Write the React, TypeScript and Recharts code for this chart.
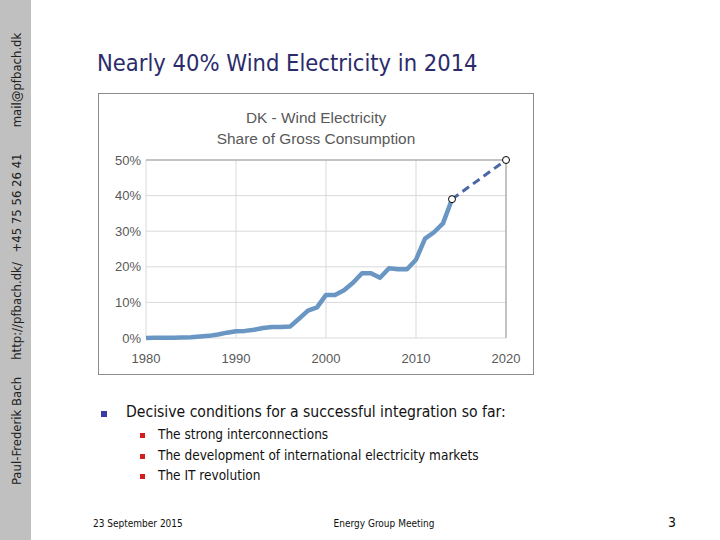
import React from "react";
import { LineChart, Line, XAxis, YAxis, CartesianGrid, ReferenceLine } from "recharts";

const years = [1980, 1981, 1982, 1983, 1984, 1985, 1986, 1987, 1988, 1989, 1990, 1991, 1992, 1993, 1994, 1995, 1996, 1997, 1998, 1999, 2000, 2001, 2002, 2003, 2004, 2005, 2006, 2007, 2008, 2009, 2010, 2011, 2012, 2013, 2014];
const windShare = [0, 0.05, 0.1, 0.1, 0.15, 0.2, 0.4, 0.6, 1.0, 1.5, 1.9, 2.0, 2.3, 2.8, 3.1, 3.1, 3.2, 5.4, 7.7, 8.6, 12.1, 12.1, 13.4, 15.5, 18.2, 18.2, 16.9, 19.6, 19.3, 19.3, 22.0, 27.9, 29.7, 32.2, 39.0];
const targetYears = [2014, 2020];
const targetShare = [39.0, 50.0];
const xTicks = [1980, 1990, 2000, 2010, 2020];
const yTicks = [0, 10, 20, 30, 40, 50];

const chartTitle = ["DK - Wind Electricity", "Share of Gross Consumption"];
const slideTitle = "Nearly 40% Wind Electricity in 2014";
const mainBullet = "Decisive conditions for a successful integration so far:";
const subBullets = ["The strong interconnections", "The development of international electricity markets", "The IT revolution"];
const sidebarTexts = ["mail@pfbach.dk", "+45 75 56 26 41", "http://pfbach.dk/", "Paul-Frederik Bach"];
const sidebarCenters = [80, 203, 311, 431];

const data = [
  ...years.map((y, i) => ({ year: y, share: windShare[i], target: targetYears.includes(y) ? targetShare[targetYears.indexOf(y)] : undefined })),
  ...targetYears.filter((y) => !years.includes(y)).map((y) => ({ year: y, share: undefined, target: targetShare[targetYears.indexOf(y)] })),
];

const font = "'Liberation Sans', Arial, sans-serif";
const slideFont = "'DejaVu Sans Condensed', 'DejaVu Sans', sans-serif";

export default function App() {
  return (
    <div style={{ position: "absolute", left: 0, top: 0, width: 720, height: 540, background: "#fff", overflow: "hidden", fontFamily: font }}>
      <div style={{ position: "absolute", left: 0, top: 0, width: 31, height: 540, background: "#c0c0c0" }} />
      {sidebarTexts.map((t, i) => (
        <div key={t} style={{ position: "absolute", left: 16, top: sidebarCenters[i], transform: "translate(-50%, -50%) rotate(-90deg)", whiteSpace: "nowrap", fontSize: 13, color: "#222", fontFamily: slideFont }}>{t}</div>
      ))}
      <div style={{ position: "absolute", left: 97, top: 49, fontSize: 23.5, color: "#2b2b6b", whiteSpace: "nowrap", fontFamily: slideFont }}>{slideTitle}</div>

      <div style={{ position: "absolute", left: 98, top: 93, width: 434, height: 280, border: "1px solid #8c8c8c", background: "#fff" }}>
        <div style={{ position: "absolute", left: 0, width: 434, top: 13, textAlign: "center", fontSize: 15.4, color: "#595959", lineHeight: "21px", fontFamily: font }}>
          <div>{chartTitle[0]}</div>
          <div>{chartTitle[1]}</div>
        </div>
        <div style={{ position: "absolute", left: -1, top: -1 }}>
          <LineChart width={436} height={282} data={data} margin={{ top: 67, right: 28, bottom: 7, left: 0 }}>
            <CartesianGrid stroke="#d9d9d9" strokeWidth={1} horizontalValues={yTicks} verticalValues={xTicks} />
            <ReferenceLine y={50} stroke="#9a9a9a" />
            <ReferenceLine x={2020} stroke="#9a9a9a" />
            <XAxis dataKey="year" type="number" domain={[1980, 2020]} ticks={xTicks} axisLine={false} tickLine={false} tickSize={0} tickMargin={16} height={30} tick={{ fill: "#595959", fontSize: 13, fontFamily: font }} />
            <YAxis type="number" domain={[0, 50]} ticks={yTicks} width={48} axisLine={false} tickLine={false} tickSize={0} tickMargin={5} tickFormatter={(v) => `${v}%`} tick={{ fill: "#595959", fontSize: 13, fontFamily: font }} />
            <Line dataKey="share" stroke="#6a96c4" strokeWidth={4.5} dot={false} isAnimationActive={false} connectNulls={false} strokeLinejoin="round" />
            <Line dataKey="target" stroke="#4a67a8" strokeWidth={3} strokeDasharray="8 5" dot={{ r: 3.5, fill: "#fff", stroke: "#000", strokeWidth: 1, strokeDasharray: "0" }} isAnimationActive={false} connectNulls={true} />
          </LineChart>
        </div>
      </div>

      <div style={{ position: "absolute", left: 101, top: 411, width: 6, height: 6, background: "#3a3aa6" }} />
      <div style={{ position: "absolute", left: 126, top: 403, fontSize: 15.6, color: "#111", whiteSpace: "nowrap", fontFamily: slideFont }}>{mainBullet}</div>
      {subBullets.map((t, i) => (
        <React.Fragment key={t}>
          <div style={{ position: "absolute", left: 140, top: 433 + i * 20.5, width: 5, height: 5, background: "#d02020" }} />
          <div style={{ position: "absolute", left: 158, top: 426 + i * 20.5, fontSize: 13.5, color: "#111", whiteSpace: "nowrap", fontFamily: slideFont }}>{t}</div>
        </React.Fragment>
      ))}

      <div style={{ position: "absolute", left: 93, top: 518, fontSize: 10, color: "#111", whiteSpace: "nowrap", fontFamily: slideFont }}>23 September 2015</div>
      <div style={{ position: "absolute", left: 384, top: 518, transform: "translateX(-50%)", fontSize: 10, color: "#111", whiteSpace: "nowrap", fontFamily: slideFont }}>Energy Group Meeting</div>
      <div style={{ position: "absolute", left: 668, top: 514, fontSize: 14, color: "#111", fontFamily: slideFont }}>3</div>
    </div>
  );
}
